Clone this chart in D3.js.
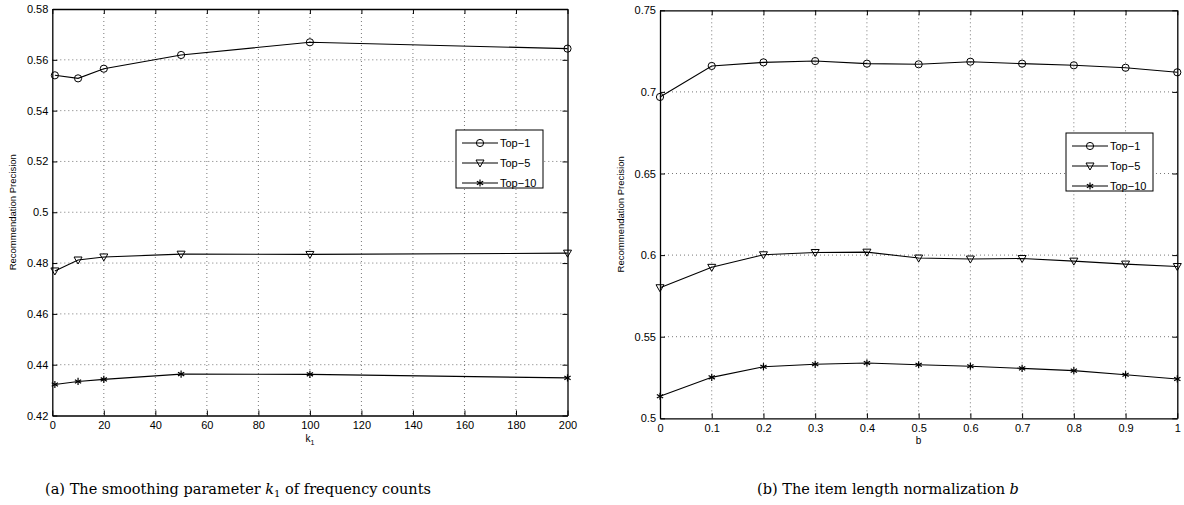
<!DOCTYPE html>
<html>
<head>
<meta charset="utf-8">
<script src="https://cdn.jsdelivr.net/npm/d3@7"></script>
<style>
  body { margin: 0; background: #fff; }
  svg text { font-family: "Liberation Sans", Arial, sans-serif; }
  .caption { font-family: "DejaVu Serif", "Liberation Serif", serif; }
</style>
</head>
<body>
<svg id="chart" width="1184" height="505"></svg>
<script>
// panel (a): smoothing parameter k1
const kValues = [1, 10, 20, 50, 100, 200];
const kTop1  = [0.5539, 0.5527, 0.5565, 0.5619, 0.5669, 0.5644];
const kTop5  = [0.4769, 0.4812, 0.4824, 0.4835, 0.4834, 0.4839];
const kTop10 = [0.4322, 0.4334, 0.4342, 0.4363, 0.4362, 0.4348];
const kXTicks = [0, 20, 40, 60, 80, 100, 120, 140, 160, 180, 200];
const kYTicks = [0.42, 0.44, 0.46, 0.48, 0.5, 0.52, 0.54, 0.56, 0.58];

// panel (b): item length normalization b
const bValues = [0, 0.1, 0.2, 0.3, 0.4, 0.5, 0.6, 0.7, 0.8, 0.9, 1];
const bTop1  = [0.6969, 0.7159, 0.7181, 0.7189, 0.7173, 0.7169, 0.7185, 0.7173, 0.7163, 0.7148, 0.7120];
const bTop5  = [0.5800, 0.5925, 0.6002, 0.6016, 0.6018, 0.5982, 0.5976, 0.5979, 0.5963, 0.5945, 0.5930];
const bTop10 = [0.5135, 0.5251, 0.5316, 0.5331, 0.5339, 0.5328, 0.5319, 0.5306, 0.5292, 0.5267, 0.5241];
const bXTicks = [0, 0.1, 0.2, 0.3, 0.4, 0.5, 0.6, 0.7, 0.8, 0.9, 1];
const bYTicks = [0.5, 0.55, 0.6, 0.65, 0.7, 0.75];

const seriesNames = ["Top\u22121", "Top\u22125", "Top\u221210"];
const markers = ["circle", "triangle", "star"];

const svg = d3.select("#chart");

function drawMarker(g, type, x, y) {
    if (type === "circle") {
        g.append("circle").attr("cx", x).attr("cy", y).attr("r", 3.6)
            .attr("fill", "none").attr("stroke", "#000").attr("stroke-width", 1);
    } else if (type === "triangle") {
        g.append("path")
            .attr("d", `M${x - 4},${y - 3} L${x + 4},${y - 3} L${x},${y + 4} Z`)
            .attr("fill", "none").attr("stroke", "#000").attr("stroke-width", 1);
    } else {
        const s = 3.6;
        const p = [[0, -s, 0, s], [-s * 0.87, -s / 2, s * 0.87, s / 2], [-s * 0.87, s / 2, s * 0.87, -s / 2]];
        p.forEach(q => g.append("line")
            .attr("x1", x + q[0]).attr("y1", y + q[1]).attr("x2", x + q[2]).attr("y2", y + q[3])
            .attr("stroke", "#000").attr("stroke-width", 1.2));
    }
}

function drawPanel(opt) {
    const g = svg.append("g");
    const x = d3.scaleLinear().domain(opt.xDomain).range([opt.left, opt.right]);
    const y = d3.scaleLinear().domain(opt.yDomain).range([opt.bottom, opt.top]);

    // dotted grid
    g.append("g").selectAll("line.gx")
        .data(opt.xTicks.slice(1, -1))
        .join("line")
        .attr("x1", d => x(d)).attr("x2", d => x(d))
        .attr("y1", opt.top).attr("y2", opt.bottom)
        .attr("stroke", "#555").attr("stroke-width", 0.8).attr("stroke-dasharray", "1,3");
    g.append("g").selectAll("line.gy")
        .data(opt.yTicks.slice(1, -1))
        .join("line")
        .attr("y1", d => y(d)).attr("y2", d => y(d))
        .attr("x1", opt.left).attr("x2", opt.right)
        .attr("stroke", "#555").attr("stroke-width", 0.8).attr("stroke-dasharray", "1,3");

    // axes with inward ticks (box style)
    const fmt = d => String(d);
    g.append("g").attr("transform", `translate(0,${opt.bottom})`)
        .call(d3.axisBottom(x).tickValues(opt.xTicks).tickFormat(fmt).tickSizeInner(-5).tickSizeOuter(0).tickPadding(6));
    g.append("g").attr("transform", `translate(0,${opt.top})`)
        .call(d3.axisTop(x).tickValues(opt.xTicks).tickFormat("").tickSizeInner(-5).tickSizeOuter(0));
    g.append("g").attr("transform", `translate(${opt.left},0)`)
        .call(d3.axisLeft(y).tickValues(opt.yTicks).tickFormat(fmt).tickSizeInner(-5).tickSizeOuter(0).tickPadding(4));
    g.append("g").attr("transform", `translate(${opt.right},0)`)
        .call(d3.axisRight(y).tickValues(opt.yTicks).tickFormat("").tickSizeInner(-5).tickSizeOuter(0));
    g.selectAll(".domain").attr("stroke", "#000").attr("stroke-width", 1.3);
    g.selectAll(".tick line").attr("stroke", "#000");
    g.selectAll(".tick text").attr("font-size", 11).attr("fill", "#000")
        .style("font-family", "'Liberation Sans', Arial, sans-serif");

    // series
    const line = d3.line().x(d => x(d[0])).y(d => y(d[1]));
    opt.series.forEach((vals, si) => {
        const pts = opt.xValues.map((v, i) => [v, vals[i]]);
        g.append("path").datum(pts).attr("d", line)
            .attr("fill", "none").attr("stroke", "#000").attr("stroke-width", 1.1);
        pts.forEach(p => drawMarker(g, markers[si], x(p[0]), y(p[1])));
    });

    // axis labels
    g.append("text")
        .attr("transform", `translate(${opt.left - 36},${(opt.top + opt.bottom) / 2}) rotate(-90)`)
        .attr("text-anchor", "middle").attr("font-size", 9.5)
        .text("Recommendation Precision");
    const xl = g.append("text")
        .attr("x", (opt.left + opt.right) / 2).attr("y", opt.bottom + 26)
        .attr("text-anchor", "middle").attr("font-size", 10);
    xl.append("tspan").text(opt.xLabel);
    if (opt.xSub) xl.append("tspan").attr("dy", 3).attr("font-size", 7).text(opt.xSub);

    // legend
    const lg = g.append("g").attr("transform", `translate(${opt.legendX},${opt.legendY})`);
    lg.append("rect").attr("width", 87).attr("height", 58)
        .attr("fill", "#fff").attr("stroke", "#000").attr("stroke-width", 1);
    seriesNames.forEach((name, i) => {
        const ly = 13 + i * 20;
        lg.append("line").attr("x1", 6).attr("x2", 42).attr("y1", ly).attr("y2", ly)
            .attr("stroke", "#000").attr("stroke-width", 1);
        drawMarker(lg, markers[i], 24, ly);
        lg.append("text").attr("x", 44).attr("y", ly + 4).attr("font-size", 11).text(name);
    });

    // caption
    const cap = g.append("text").attr("class", "caption")
        .attr("x", opt.capX).attr("y", 494).attr("text-anchor", "middle").attr("font-size", 14.5);
    opt.caption.forEach(part => {
        const t = cap.append("tspan").text(part.t);
        if (part.i) t.attr("font-style", "italic");
        if (part.sub) t.attr("dy", 3).attr("font-size", 10);
        if (part.up) t.attr("dy", -3);
    });
}

drawPanel({
    left: 52.3, right: 567.5, top: 9, bottom: 415.5,
    xDomain: [0, 200], yDomain: [0.42, 0.58],
    xTicks: kXTicks, yTicks: kYTicks,
    xValues: kValues, series: [kTop1, kTop5, kTop10],
    xLabel: "k", xSub: "1",
    legendX: 456, legendY: 130,
    capX: 238,
    caption: [{t: "(a) The smoothing parameter "}, {t: "k", i: true}, {t: "1", sub: true}, {t: " of frequency counts", up: true}]
});

drawPanel({
    left: 660, right: 1177.3, top: 10.3, bottom: 418.3,
    xDomain: [0, 1], yDomain: [0.5, 0.75],
    xTicks: bXTicks, yTicks: bYTicks,
    xValues: bValues, series: [bTop1, bTop5, bTop10],
    xLabel: "b",
    legendX: 1066, legendY: 133,
    capX: 888,
    caption: [{t: "(b) The item length normalization "}, {t: "b", i: true}]
});
</script>
</body>
</html>
